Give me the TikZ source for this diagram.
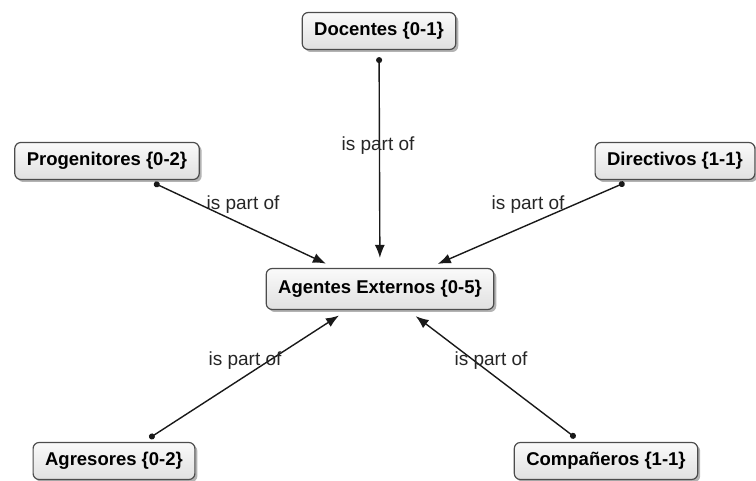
\documentclass[tikz,border=0pt]{standalone}
\usepackage{fontspec}
\setmainfont{Liberation Sans}
\usetikzlibrary{shadows,arrows.meta}

\begin{document}
\begin{tikzpicture}[x=1pt,y=-1pt,
  concept/.style={draw=black!70, line width=1.2pt, rounded corners=6pt,
    top color=black!2, bottom color=black!12,
    drop shadow={shadow xshift=2.5pt, shadow yshift=-2.5pt, opacity=0.6},
    font=\fontsize{18.5}{22}\selectfont\bfseries,
    inner xsep=12pt, minimum height=37pt},
  link/.style={line width=1.4pt, black!90,
    {Circle[length=6pt]}-{Latex[length=13pt,width=10pt]},
    shorten <=7pt, shorten >=10pt},
  linklabel/.style={font=\fontsize{19}{22}\selectfont, text=black!85, inner sep=0pt}]
\useasboundingbox (0,0) rectangle (756,481);

% concepts
\node[concept] (docentes) at (379,31) {Docentes \{0-1\}};
\node[concept] (progenitores) at (107,161) {Progenitores \{0-2\}};
\node[concept] (directivos) at (675,161) {Directivos \{1-1\}};
\node[concept, minimum height=41pt] (agentes) at (380,289) {Agentes Externos \{0-5\}};
\node[concept] (agresores) at (114,461) {Agresores \{0-2\}};
\node[concept] (companeros) at (606,461) {Compañeros \{1-1\}};

% links
\draw[link] (docentes) -- (agentes);
\draw[link] (progenitores) -- (agentes);
\draw[link] (directivos) -- (agentes);
\draw[link] (agresores) -- (agentes);
\draw[link] (companeros) -- (agentes);

% link labels
\node[linklabel] (lbdoc) at (378,146) {is part of};
\node[linklabel] (lbprog) at (243,205) {is part of};
\node[linklabel] (lbdir) at (528,205) {is part of};
\node[linklabel] (lbagr) at (245,361) {is part of};
\node[linklabel] (lbcomp) at (491,361) {is part of};
\end{tikzpicture}
\end{document}
